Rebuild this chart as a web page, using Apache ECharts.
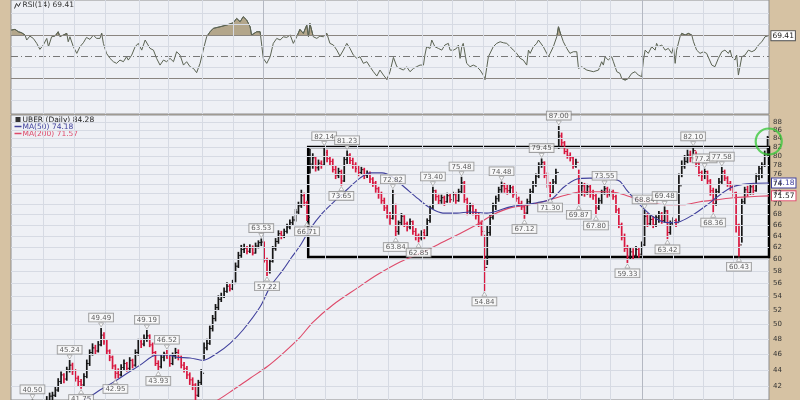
<!DOCTYPE html>
<html><head><meta charset="utf-8">
<script src="https://cdn.jsdelivr.net/npm/echarts@6/dist/echarts.min.js"></script>
<style>html,body{margin:0;padding:0;background:#d6c2a3}#c{width:800px;height:400px}</style>
</head><body><div id="c"></div>
<script>
// ---- DATA ----
const symbolName = 'UBER';
// price bars, 2 trading days each: [low, high, close]
const bars = [
[35.9,36.9,36.5],[36.2,37.2,36.8],[36.7,37.8,37.4],[36.8,37.7,37.2],[37.1,38.4,38.0],[37.8,39.0,38.6],[38.4,39.8,39.4],[39.1,40.50,39.9],[38.9,40.1,39.3],[38.3,39.5,38.8],
[38.6,39.9,39.5],[39.2,40.4,40.0],[39.8,40.9,40.4],[40.1,41.3,40.9],[40.4,41.4,41.0],[40.8,42.0,41.6],[41.4,43.0,42.6],[42.3,43.8,43.4],[42.4,43.6,42.9],[42.7,44.4,44.0],
[43.7,45.24,44.6],[43.4,44.9,43.9],[42.6,44.1,43.0],[42.0,43.3,42.6],[41.75,42.9,42.2],[42.0,43.6,43.2],[43.0,45.3,44.8],[44.5,46.6,46.2],[45.8,47.4,46.8],[45.9,47.2,46.4],
[46.2,47.7,47.2],[47.0,49.49,48.5],[47.2,48.9,47.6],[46.0,47.9,46.4],[45.1,46.6,45.6],[44.1,45.8,44.5],[42.95,44.7,43.6],[43.0,44.2,43.4],[43.2,44.7,44.3],[44.0,45.3,44.8],
[43.8,45.0,44.2],[44.0,45.6,45.2],[44.2,45.4,44.6],[44.4,46.6,46.2],[45.8,48.0,47.6],[46.8,48.0,47.3],[47.0,48.6,48.0],[47.6,49.19,48.4],[46.9,48.6,47.2],[45.8,47.5,46.2],
[44.5,46.4,44.8],[43.93,45.2,44.4],[44.2,45.9,45.6],[45.1,46.3,46.0],[45.4,46.52,45.5],[44.4,45.8,44.8],[44.6,46.2,45.8],[45.4,46.8,46.2],[45.2,46.6,45.6],[44.2,45.8,44.6],
[43.7,45.0,44.2],[42.9,44.5,43.4],[42.2,43.7,42.8],[41.6,43.1,42.2],[40.1,42.4,41.0],[40.8,42.8,42.5],[42.2,44.1,43.6],[45.3,47.5,46.8],[46.5,48.0,47.4],[47.2,49.8,49.4],
[49.0,51.3,50.8],[50.4,52.9,52.4],[52.0,54.2,53.6],[53.2,54.6,54.0],[53.8,55.4,54.8],[54.6,56.2,55.6],[54.8,56.0,55.2],[55.0,56.6,56.0],[56.2,59.4,58.8],[58.5,61.2,60.6],
[60.2,62.4,61.6],[61.0,62.6,61.8],[60.8,62.2,61.3],[61.0,62.5,61.9],[60.6,62.3,61.0],[60.9,62.8,62.2],[61.8,63.2,62.8],[62.2,63.53,62.9],[59.4,63.0,59.8],[57.22,60.2,57.9],
[57.6,60.0,59.6],[59.4,62.2,61.8],[61.4,63.6,63.0],[62.6,65.0,64.4],[63.4,64.9,64.0],[63.6,65.3,64.8],[64.4,66.2,65.6],[65.2,67.0,66.4],[65.9,67.6,66.9],[66.6,69.0,68.4],
[68.0,70.4,69.6],[69.2,72.8,71.6],[69.6,72.2,70.2],[66.71,70.6,67.4],[76.2,81.6,78.2],[77.2,80.6,79.6],[76.6,80.0,77.4],[76.8,79.2,78.4],[77.2,79.0,78.0],[77.8,82.14,80.8],
[78.6,81.4,79.4],[78.0,80.0,78.8],[76.4,79.4,77.0],[75.0,77.8,75.8],[75.2,77.4,76.6],[73.65,77.0,74.6],[74.4,79.8,79.2],[78.2,81.23,80.2],[78.2,80.6,79.0],[77.2,79.6,78.0],
[76.4,78.6,77.2],[75.6,77.8,76.4],[76.0,77.6,77.0],[75.0,77.4,75.8],[75.2,76.8,76.2],[74.2,76.6,75.0],[73.4,75.4,74.2],[72.2,74.6,73.0],[71.0,73.4,72.0],[70.0,72.4,70.6],
[68.6,71.2,69.2],[67.2,69.8,68.0],[66.0,68.4,67.2],[67.0,72.82,72.0],[63.84,70.0,64.8],[64.2,66.8,66.4],[65.8,68.2,67.6],[65.6,67.8,66.2],[64.8,66.6,65.6],[65.2,67.2,66.6],
[64.2,66.8,64.8],[63.2,65.4,64.0],[62.85,64.4,63.6],[63.2,65.0,64.6],[63.4,65.2,64.0],[63.8,67.2,66.8],[66.4,69.6,69.2],[69.0,73.40,72.6],[70.6,72.8,71.4],[69.8,71.8,70.6],
[70.0,71.8,71.2],[69.6,71.6,70.4],[70.2,72.2,71.6],[70.2,72.0,70.8],[70.4,72.4,71.8],[70.0,72.2,70.6],[70.4,73.0,72.4],[72.0,75.48,74.2],[70.2,74.6,70.8],[67.8,71.2,68.6],
[68.0,70.2,69.6],[67.8,70.0,68.4],[67.0,69.0,67.8],[65.6,68.2,66.2],[64.0,66.8,64.8],[54.84,64.2,58.6],[59.0,65.8,64.6],[64.0,68.0,67.4],[67.0,70.2,69.6],[68.8,71.6,71.0],
[70.4,73.4,72.8],[72.2,74.48,73.6],[72.2,74.2,73.0],[71.8,73.8,72.6],[72.0,74.0,73.2],[71.2,73.6,71.8],[70.4,72.4,71.0],[69.4,71.4,70.0],[68.8,70.6,69.4],[67.12,69.8,68.2],
[68.0,71.0,70.4],[70.0,73.0,72.4],[72.0,74.6,73.8],[73.4,76.2,75.6],[75.2,78.6,78.0],[77.4,79.45,78.6],[75.2,78.8,75.8],[73.2,76.4,73.8],[71.30,74.4,72.2],[72.0,75.0,74.4],
[74.0,77.2,76.4],[81.6,87.00,84.6],[82.2,85.4,83.0],[80.4,83.4,81.0],[79.4,81.6,80.0],[78.8,80.8,79.6],[77.2,79.8,77.8],[77.4,79.4,78.6],[69.87,77.0,72.4],[71.6,74.4,73.6],
[71.4,74.2,72.2],[71.8,74.0,73.4],[71.2,73.8,72.0],[70.8,72.8,71.6],[67.80,72.0,69.2],[68.8,71.2,70.6],[70.0,72.8,72.4],[71.8,73.55,73.0],[71.2,73.4,71.8],[71.4,73.0,72.4],
[70.8,72.8,71.4],[68.2,71.8,68.8],[65.4,69.2,66.0],[63.2,66.4,63.8],[61.2,64.4,61.8],[59.33,62.4,60.4],[60.0,62.0,61.2],[60.0,61.8,60.6],[60.2,62.2,61.6],[60.2,62.0,60.8],
[60.6,63.0,62.4],[62.2,68.84,67.6],[65.6,68.2,66.2],[65.8,67.8,67.0],[65.4,67.6,66.0],[65.6,67.8,67.4],[66.4,68.6,68.0],[66.2,68.4,66.8],[66.4,69.48,68.6],[63.42,68.8,64.6],
[64.2,66.8,66.2],[65.8,67.4,66.8],[65.6,67.2,66.4],[66.6,76.2,73.6],[75.4,79.0,77.8],[77.2,80.2,78.8],[78.4,81.4,80.2],[78.6,81.2,79.6],[79.2,82.10,81.2],[77.6,81.0,78.4],
[75.6,79.0,76.4],[74.6,76.8,75.6],[75.0,77.21,76.6],[73.8,76.8,74.6],[71.6,75.0,72.6],[68.36,73.2,70.0],[69.6,73.0,72.4],[72.0,75.2,74.4],[74.0,77.58,76.6],[74.6,77.0,75.2],
[73.4,75.6,74.0],[72.6,74.6,73.4],[71.4,73.8,72.2],[64.6,72.4,66.0],[60.43,66.2,62.4],[62.8,71.0,70.4],[69.8,73.4,72.8],[71.4,73.6,72.2],[71.8,74.0,73.4],[71.8,74.2,72.6],
[72.4,76.2,75.6],[74.8,78.0,77.2],[75.2,78.6,78.0],[77.6,81.2,80.4],[80.0,84.6,84.28]
];
const firstOpen = 36.2;
// moving averages: [bar position, value]
const ma50 = [[20.1,39.8],[26.4,40.7],[30.6,41.6],[35.2,42.5],[40.1,43.6],[44.6,44.6],[50.5,45.9],[54.0,45.9],[57.5,45.6],[62.1,45.5],[66.6,45.2],[71.5,46.1],[76.1,47.4],[80.6,49.2],[86.6,52.5],[90.1,55.5],[94.6,58.2],[97.5,60.2],[100.5,62.2],[104.0,65.2],[108.2,68.1],[112.8,70.6],[117.3,73.0],[121.5,75.2],[125.0,76.3],[129.2,76.3],[132.7,75.5],[137.3,73.2],[141.8,71.0],[146.0,69.2],[150.5,68.2],[155.4,68.2],[160.0,68.4],[165.9,68.2],[169.4,68.6],[174.0,69.4],[178.5,69.8],[183.4,70.2],[188.7,71.0],[192.5,73.2],[197.4,75.0],[201.9,75.2],[207.9,75.1],[212.2,74.6],[214.9,72.6],[219.4,69.8],[224.0,67.5],[228.9,66.4],[232.7,66.5],[238.0,67.9],[242.9,69.8],[247.4,71.8],[251.9,73.4],[256.8,74.0],[264.5,74.18]];
const ma200 = [[65.6,39.5],[71.5,40.4],[77.1,41.6],[83.1,43.0],[89.0,44.4],[94.6,46.1],[100.5,48.2],[105.1,50.3],[112.1,52.8],[120.5,55.3],[127.5,57.4],[135.5,59.5],[143.6,61.2],[150.5,62.9],[157.5,64.7],[163.5,66.4],[168.0,67.9],[174.0,69.2],[181.0,69.8],[188.0,70.8],[193.9,71.8],[199.5,72.4],[207.9,72.4],[211.4,72.2],[217.0,71.2],[222.9,70.2],[228.9,69.8],[234.5,69.8],[240.4,70.4],[246.3,70.8],[251.9,71.2],[257.9,71.4],[264.5,71.57]];
// RSI(14): [bar position, value]
const rsi = [[-0.4,74.6],[0.9,75.2],[2.1,73.0],[3.2,72.1],[4.4,70.0],[5.0,65.4],[6.1,69.0],[7.3,66.9],[8.5,62.3],[9.6,56.8],[10.8,60.8],[12.0,66.9],[12.6,59.2],[13.7,68.4],[14.9,69.0],[16.0,73.0],[16.6,68.4],[17.8,70.0],[19.0,71.5],[19.5,63.8],[20.1,68.4],[21.3,59.2],[22.5,53.1],[23.6,59.2],[24.8,62.9],[25.9,67.8],[27.1,66.0],[28.3,70.0],[29.4,66.9],[30.6,66.9],[31.2,71.5],[31.8,62.3],[32.9,53.1],[34.1,48.5],[35.3,45.4],[36.4,43.9],[37.6,46.9],[38.8,45.4],[39.9,50.0],[40.5,46.9],[41.7,51.5],[42.9,59.2],[44.0,62.3],[45.2,56.1],[46.4,65.4],[46.9,64.7],[48.1,57.7],[49.3,56.1],[50.4,48.5],[51.6,42.3],[52.8,46.9],[53.9,45.4],[55.1,48.5],[56.3,45.4],[57.4,54.6],[58.6,51.5],[59.8,42.3],[60.9,45.4],[62.1,40.8],[63.3,39.2],[64.4,35.3],[65.6,43.9],[66.7,56.1],[67.9,68.4],[69.1,73.0],[70.2,76.1],[72.6,77.6],[74.9,79.2],[77.2,81.3],[78.4,85.3],[79.6,82.3],[80.7,86.9],[81.9,83.8],[83.1,77.6],[83.6,70.0],[84.2,68.4],[85.4,73.0],[86.6,73.0],[87.7,48.5],[88.9,43.9],[90.1,50.0],[91.2,62.3],[92.4,66.9],[93.6,65.4],[94.7,68.4],[95.9,67.8],[97.1,70.0],[98.2,62.3],[99.4,68.4],[100.5,75.2],[101.7,71.5],[102.9,79.2],[103.5,68.4],[104.0,80.7],[105.2,68.4],[106.4,66.9],[107.5,69.0],[108.7,68.4],[109.9,71.5],[111.0,62.3],[112.2,60.8],[113.4,56.1],[114.5,50.6],[115.7,56.1],[116.9,62.3],[118.0,57.7],[119.2,51.5],[120.4,48.5],[121.5,50.0],[122.7,43.9],[123.9,45.4],[125.0,40.8],[126.2,36.2],[127.4,32.2],[128.5,37.7],[129.7,33.1],[130.9,29.1],[132.0,36.2],[133.2,49.4],[134.4,40.8],[135.5,39.2],[136.7,37.7],[137.8,40.8],[139.0,36.2],[140.2,39.2],[141.3,40.8],[142.5,42.3],[143.7,42.3],[144.2,51.5],[144.8,59.2],[146.0,57.7],[146.6,65.4],[147.2,66.9],[147.7,59.2],[148.9,57.7],[150.1,56.1],[151.2,60.8],[152.4,62.3],[153.0,56.1],[154.2,56.1],[155.3,57.7],[155.9,60.8],[156.5,48.5],[157.1,59.2],[157.6,62.3],[158.2,60.8],[158.8,43.9],[160.0,40.8],[161.1,42.3],[162.3,40.8],[163.5,37.7],[164.6,33.1],[165.2,29.1],[165.8,28.5],[166.4,50.0],[167.0,51.5],[168.1,59.2],[169.3,62.3],[170.5,63.8],[171.6,62.9],[172.8,62.3],[174.0,59.2],[175.1,56.1],[176.3,53.1],[177.5,48.5],[178.6,46.9],[179.8,42.3],[180.4,56.1],[181.0,53.1],[182.1,59.2],[183.3,62.3],[183.9,65.4],[184.5,63.8],[185.6,59.2],[186.8,53.1],[187.4,50.0],[188.0,53.1],[189.1,59.2],[190.3,68.4],[190.9,77.6],[191.4,73.0],[192.6,63.8],[193.8,57.7],[194.9,53.1],[196.1,54.6],[197.3,54.6],[197.9,39.2],[199.0,40.8],[200.8,37.7],[203.1,36.2],[204.9,37.7],[206.0,45.4],[206.6,42.3],[207.2,50.0],[208.3,46.9],[209.5,50.0],[210.1,45.4],[211.3,36.2],[212.4,34.6],[213.0,30.0],[214.2,28.5],[215.3,30.0],[216.5,34.6],[217.7,36.2],[218.8,33.1],[220.0,31.6],[220.6,46.9],[221.2,56.1],[222.3,53.1],[223.5,59.2],[224.7,56.1],[225.2,62.3],[225.8,59.2],[227.0,60.8],[228.2,56.1],[229.3,57.7],[230.5,53.1],[231.1,59.2],[231.7,43.9],[232.2,56.1],[233.4,68.4],[234.0,71.5],[235.2,70.0],[236.3,71.5],[237.5,70.0],[238.1,63.8],[239.2,56.1],[240.4,53.1],[241.6,54.6],[242.7,53.1],[243.3,54.6],[244.5,42.3],[245.6,40.8],[246.8,48.5],[248.0,54.6],[249.1,56.1],[250.3,53.1],[250.9,56.1],[251.5,50.0],[252.6,46.9],[253.2,51.5],[253.8,33.1],[254.4,31.6],[255.0,50.0],[256.1,51.5],[257.3,56.1],[258.5,54.6],[259.6,56.1],[260.8,60.8],[262.0,63.8],[263.1,68.4],[264.3,69.41]];
// annotated highs and lows: [bar, price]
const annHighs = [[7,40.50],[20,45.24],[31,49.49],[47,49.19],[54,46.52],[87,63.53],[109,82.14],[117,81.23],[133,72.82],[147,73.40],[157,75.48],[171,74.48],[185,79.45],[191,87.00],[207,73.55],[221,68.84],[228,69.48],[238,82.10],[242,77.21],[248,77.58]];
const annLows = [[24,41.75],[36,42.95],[51,43.93],[89,57.22],[103,66.71],[115,73.65],[134,63.84],[142,62.85],[165,54.84],[179,67.12],[188,71.30],[198,69.87],[204,67.80],[215,59.33],[229,63.42],[245,68.36],[254,60.43]];
// axis ticks
const priceTicks = [42,44,46,48,50,52,54,56,58,60,62,64,66,68,70,72,74,76,78,80,82,84,86,88];
const rsiGridVals = [10,20,40,60,80,90];
const rsiTickLabels = [10,30,50,70,90];
const monthLines = [10.7,21.5,32.4,44.3,54.4,66.3,77.1,98.8,109.3,120.5,131.3,143.2,153.7,164.5,175.7,186.9,198.4,208.9,230.9,241.4,251.9];
const yearLines = [87.6,220.1];
// trading range box [x0, x1, low, high] and highlight circle [x, price]
const box = [103.4, 264.5, 60.34, 82.05];
const circlePt = [264.4, 83.3];

// ---- STYLE ----
const RED = '#d8173f', BLACK = '#151515', BLUE = '#40409c', PINK = '#de4a6a';
const GRIDC = '#d6dae3', PLOTBG = '#eef0f5', FONT = 'DejaVu Sans';
const RSIC = '#5b6353', FILLC = '#b3a68b';

const lastClose = bars[bars.length - 1][2];
const lastMa50 = ma50[ma50.length - 1][1];
const lastMa200 = ma200[ma200.length - 1][1];
const lastRsi = rsi[rsi.length - 1][1];

const barData = bars.map((b, i) => [i, b[0], b[1], b[2], i ? bars[i - 1][2] : firstOpen]);

function renderBar(params, api) {
  const i = api.value(0);
  const lo = api.coord([i, api.value(1)]);
  const hi = api.coord([i, api.value(2)]);
  const cl = api.coord([i, api.value(3)]);
  const op = api.coord([i, api.value(4)]);
  const col = api.value(3) < api.value(4) ? RED : BLACK;
  const cs = params.coordSys;
  return {
    type: 'group',
    clipPath: { type: 'rect', shape: { x: cs.x, y: cs.y, width: cs.width, height: cs.height } },
    children: [
      { type: 'line', shape: { x1: lo[0], y1: lo[1], x2: hi[0], y2: hi[1] }, style: { stroke: col, lineWidth: 1.7 } },
      { type: 'line', shape: { x1: op[0] - 1.4, y1: op[1], x2: op[0], y2: op[1] }, style: { stroke: col, lineWidth: 1 } },
      { type: 'line', shape: { x1: cl[0], y1: cl[1], x2: cl[0] + 1.5, y2: cl[1] }, style: { stroke: col, lineWidth: 1 } }
    ]
  };
}

const axisLbl = { show: true, position: 'end', formatter: '{b}', distance: 4, fontSize: 7, color: '#333', fontFamily: FONT };
const annLabel = { show: true, fontSize: 7, fontFamily: FONT, color: '#333', backgroundColor: '#fbfbfb', borderColor: '#808080', borderWidth: 0.8, padding: [1, 2, 0, 2], formatter: p => p.value[1].toFixed(2) };
const boxLabel = c => ({ show: true, fontSize: 7.5, fontFamily: FONT, color: '#222', backgroundColor: '#fff', borderColor: c, borderWidth: 1, padding: [1, 1, 0, 1] });

const xAx = gi => ({ type: 'value', gridIndex: gi, min: -0.5, max: 264.5, show: false });
const hidden = { show: false };

const option = {
  animation: false,
  backgroundColor: '#d6c2a3',
  grid: [
    { left: 11, right: 31, top: 0, height: 114, show: true, backgroundColor: PLOTBG, borderColor: '#8d8d8d', borderWidth: 1, outerBoundsMode: 'none' },
    { left: 11, right: 31, top: 115, bottom: 0, show: true, backgroundColor: PLOTBG, borderColor: '#8d8d8d', borderWidth: 1, outerBoundsMode: 'none' },
    { left: 11, right: 31, top: 0, height: 35, show: false, outerBoundsMode: 'none' },
    { left: 11, right: 31, top: 78.4, height: 35.6, show: false, outerBoundsMode: 'none' }
  ],
  xAxis: [xAx(0), xAx(1), xAx(2), xAx(3)],
  yAxis: [
    { type: 'value', gridIndex: 0, min: -2.8, max: 102.3, show: false, splitLine: hidden },
    { type: 'log', gridIndex: 1, min: 40.46, max: 89.7, show: false, splitLine: hidden },
    { type: 'value', gridIndex: 2, min: 70, max: 102.3, show: false, splitLine: hidden },
    { type: 'value', gridIndex: 3, min: -2.8, max: 30, show: false, splitLine: hidden }
  ],
  graphic: [
    { type: 'group', left: 12, top: 0, children: [
      { type: 'polyline', shape: { points: [[1, 6], [3, 1], [5, 4], [7, 0]] }, style: { stroke: '#333', lineWidth: 1, fill: null } },
      { type: 'text', x: 9, y: -1, style: { text: 'RSI(14) ' + lastRsi.toFixed(2), fontSize: 7.5, fontFamily: FONT, fill: '#333', verticalAlign: 'top' } }
    ] },
    { type: 'group', left: 12, top: 116, children: [
      { type: 'rect', shape: { x: 1, y: 1, width: 5, height: 5 }, style: { fill: '#333' } },
      { type: 'text', x: 8, y: 0, style: { text: symbolName + ' (Daily) ' + lastClose.toFixed(2), fontSize: 7.5, fontFamily: FONT, fill: '#222', verticalAlign: 'top' } },
      { type: 'line', shape: { x1: 0, y1: 10.5, x2: 7, y2: 10.5 }, style: { stroke: BLUE, lineWidth: 1.5 } },
      { type: 'text', x: 8, y: 7, style: { text: 'MA(50) ' + lastMa50.toFixed(2), fontSize: 7.5, fontFamily: FONT, fill: BLUE, verticalAlign: 'top' } },
      { type: 'line', shape: { x1: 0, y1: 17.5, x2: 7, y2: 17.5 }, style: { stroke: PINK, lineWidth: 1.5 } },
      { type: 'text', x: 8, y: 14, style: { text: 'MA(200) ' + lastMa200.toFixed(2), fontSize: 7.5, fontFamily: FONT, fill: PINK, verticalAlign: 'top' } }
    ] }
  ],
  series: [
    { type: 'line', xAxisIndex: 0, yAxisIndex: 0, z: 1, data: [[0, 50]], symbol: 'none', lineStyle: { opacity: 0 }, silent: true,
      markLine: { silent: true, symbol: ['none', 'none'], animation: false, label: { show: false },
        data: [].concat(
          rsiGridVals.map(v => ({ yAxis: v, name: String(v), lineStyle: { color: GRIDC, width: 1, type: 'solid' } })),
          [30, 70].map(v => ({ yAxis: v, name: String(v), lineStyle: { color: '#8a8580', width: 1.2, type: 'solid' } })),
          [{ yAxis: 50, name: '50', lineStyle: { color: '#777', width: 1, type: [7, 3, 1, 3] } }],
          rsiTickLabels.map(v => ({ yAxis: v, name: String(v), lineStyle: { opacity: 0 }, label: axisLbl })),
          monthLines.map(v => ({ xAxis: v, lineStyle: { color: GRIDC, width: 1, type: 'solid' } })),
          yearLines.map(v => ({ xAxis: v, lineStyle: { color: '#b4b8c2', width: 1, type: 'solid' } }))
        ) } },
    { type: 'line', xAxisIndex: 2, yAxisIndex: 2, z: 2, data: rsi, symbol: 'none', silent: true,
      lineStyle: { color: RSIC, width: 1 }, areaStyle: { origin: 'start', color: FILLC, opacity: 1 } },
    { type: 'line', xAxisIndex: 3, yAxisIndex: 3, z: 2, data: rsi, symbol: 'none', silent: true,
      lineStyle: { color: RSIC, width: 1 }, areaStyle: { origin: 'end', color: FILLC, opacity: 1 } },
    { type: 'line', name: 'RSI(14)', xAxisIndex: 0, yAxisIndex: 0, z: 3, data: rsi, symbol: 'none',
      lineStyle: { color: RSIC, width: 1 },
      endLabel: Object.assign(boxLabel('#555'), { distance: 3, formatter: () => lastRsi.toFixed(2) }) },
    { type: 'line', xAxisIndex: 1, yAxisIndex: 1, z: 1, data: [[0, 60]], symbol: 'none', lineStyle: { opacity: 0 }, silent: true,
      markLine: { silent: true, symbol: ['none', 'none'], animation: false, label: { show: false },
        data: [].concat(
          priceTicks.map(v => ({ yAxis: v, name: String(v), lineStyle: { color: GRIDC, width: 1, type: 'solid' }, label: axisLbl })),
          monthLines.map(v => ({ xAxis: v, lineStyle: { color: GRIDC, width: 1, type: 'solid' } })),
          yearLines.map(v => ({ xAxis: v, lineStyle: { color: '#b4b8c2', width: 1, type: 'solid' } }))
        ) } },
    { type: 'custom', name: symbolName, xAxisIndex: 1, yAxisIndex: 1, z: 3, data: barData, renderItem: renderBar,
      encode: { x: 0, y: [1, 2] } },
    { type: 'line', name: 'MA(200)', xAxisIndex: 1, yAxisIndex: 1, z: 4, data: ma200, symbol: 'none', smooth: 0.3,
      lineStyle: { color: PINK, width: 1.1 },
      endLabel: Object.assign(boxLabel(PINK), { distance: 3, formatter: () => lastMa200.toFixed(2) }) },
    { type: 'line', name: 'MA(50)', xAxisIndex: 1, yAxisIndex: 1, z: 4, data: ma50, symbol: 'none', smooth: 0.3,
      lineStyle: { color: BLUE, width: 1.1 },
      endLabel: Object.assign(boxLabel(BLUE), { distance: 3, color: BLUE, formatter: () => lastMa50.toFixed(2) }) },
    { type: 'line', xAxisIndex: 1, yAxisIndex: 1, z: 6, data: [[box[0], box[2]]], symbol: 'none', lineStyle: { opacity: 0 }, silent: true,
      markArea: { silent: true, itemStyle: { color: 'rgba(0,0,0,0)', borderColor: '#000', borderWidth: 2.5 },
        data: [[{ xAxis: box[0], yAxis: box[2] }, { xAxis: box[1], yAxis: box[3] }]] } },
    { type: 'scatter', xAxisIndex: 1, yAxisIndex: 1, z: 7, data: annHighs, symbol: 'triangle', symbolSize: [5, 4], symbolRotate: 180, symbolOffset: [0, -3],
      itemStyle: { color: '#fff', borderColor: '#888', borderWidth: 0.7 }, label: Object.assign({ position: 'top', distance: 1 }, annLabel) },
    { type: 'scatter', xAxisIndex: 1, yAxisIndex: 1, z: 7, data: annLows, symbol: 'triangle', symbolSize: [5, 4], symbolOffset: [0, 3],
      itemStyle: { color: '#fff', borderColor: '#888', borderWidth: 0.7 }, label: Object.assign({ position: 'bottom', distance: 1 }, annLabel) },
    { type: 'scatter', xAxisIndex: 1, yAxisIndex: 1, z: 7, data: [[264, lastClose]], symbolSize: 1, itemStyle: { opacity: 0 },
      label: Object.assign(boxLabel('#222'), { position: 'right', distance: 3, formatter: () => lastClose.toFixed(2) }) },
    { type: 'scatter', xAxisIndex: 1, yAxisIndex: 1, z: 8, data: [circlePt], symbol: 'circle', symbolSize: 26, silent: true,
      itemStyle: { color: 'rgba(0,0,0,0)', borderColor: '#3cc83c', borderWidth: 2.2 } }
  ]
};

const chart = echarts.init(document.getElementById('c'), null, { renderer: 'canvas' });
chart.setOption(option);
</script>
</body></html>
